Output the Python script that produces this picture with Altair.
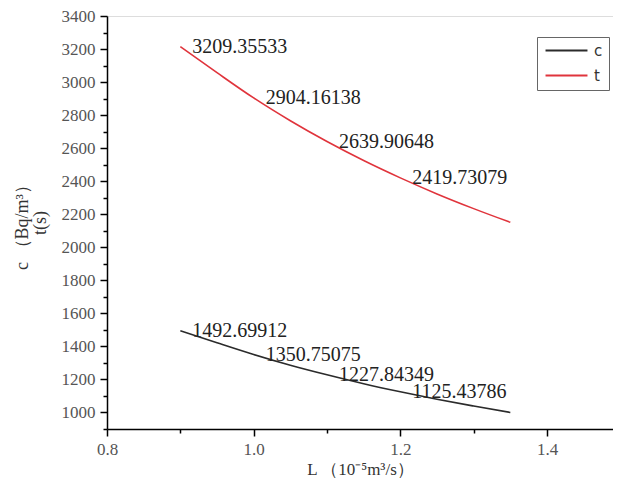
import altair as alt
import pandas as pd

# ---- data ----
L_vals = [0.90, 0.95, 1.00, 1.05, 1.10, 1.15, 1.20, 1.25, 1.30, 1.35]
c_vals = [1495, 1422, 1351, 1286, 1228, 1174, 1125, 1080, 1039, 1000]
t_vals = [3215, 3057, 2904, 2766, 2640, 2525, 2420, 2323, 2234, 2151]

label_L = [0.90, 1.00, 1.10, 1.20]
c_labels = [1492.69912, 1350.75075, 1227.84349, 1125.43786]
t_labels = [3209.35533, 2904.16138, 2639.90648, 2419.73079]

x_major = [0.8, 1.0, 1.2, 1.4]
x_minor = [0.9, 1.1, 1.3]
y_major = [1000, 1200, 1400, 1600, 1800, 2000, 2200, 2400, 2600, 2800, 3000, 3200, 3400]
y_minor = [900, 1100, 1300, 1500, 1700, 1900, 2100, 2300, 2500, 2700, 2900, 3100, 3300]

series = ["c", "t"]
colors = ["#2b2b2b", "#e0343c"]

lines = pd.DataFrame({
    "L": L_vals + L_vals,
    "v": c_vals + t_vals,
    "s": ["c"] * len(L_vals) + ["t"] * len(L_vals),
})
labels = pd.DataFrame({
    "L": label_L + label_L,
    "v": c_labels + t_labels,
    "s": ["c"] * len(label_L) + ["t"] * len(label_L),
})

SERIF = "Liberation Serif"
x_scale = alt.Scale(domain=[0.8, 1.49], nice=False, zero=False)
y_scale = alt.Scale(domain=[900, 3400], nice=False, zero=False)

common = dict(
    grid=False,
    domainColor="#000",
    domainWidth=1.5,
    tickColor="#000",
    tickWidth=1.5,
    labelFlush=False,
    labelOverlap=False,
)

x_main = alt.Axis(
    orient="bottom",
    values=x_major,
    format=".1f",
    tickSize=7,
    title="L （10⁻⁵m³/s）",
    labelFont=SERIF,
    labelFontSize=17,
    labelColor="#555",
    labelPadding=5,
    titleFont=SERIF,
    titleFontSize=17,
    titleFontWeight="normal",
    titleColor="#333",
    titlePadding=4,
    **common,
)
y_main = alt.Axis(
    orient="left",
    values=y_major,
    format="d",
    tickSize=7,
    title=["c （Bq/m³）", "t(s)"],
    labelFont=SERIF,
    labelFontSize=17,
    labelColor="#555",
    labelPadding=5,
    titleFont=SERIF,
    titleFontSize=18,
    titleFontWeight="normal",
    titleColor="#333",
    titlePadding=12,
    titleLineHeight=18,
    **common,
)
x_min_axis = alt.Axis(orient="bottom", values=x_minor, tickSize=4, labels=False,
                      domain=False, title=None, grid=False, tickColor="#000", tickWidth=1.5)
y_min_axis = alt.Axis(orient="left", values=y_minor, tickSize=4, labels=False,
                      domain=False, title=None, grid=False, tickColor="#000", tickWidth=1.5)

line_layer = alt.Chart(lines).mark_line(strokeWidth=1.6, interpolate="monotone").encode(
    x=alt.X("L:Q", scale=x_scale, axis=x_main),
    y=alt.Y("v:Q", scale=y_scale, axis=y_main),
    color=alt.Color(
        "s:N",
        scale=alt.Scale(domain=series, range=colors),
        legend=alt.Legend(
            title=None,
            orient="none",
            legendX=430,
            legendY=21,
            strokeColor="#666",
            padding=6,
            rowPadding=9,
            symbolType="M-4,0H4",
            symbolSize=110,
            symbolOffset=16,
            labelOffset=20,
            symbolStrokeWidth=2,
            labelFont="DejaVu Sans",
            labelFontSize=15,
            labelColor="#333",
        ),
    ),
)

text_layer = alt.Chart(labels).mark_text(
    align="left", baseline="middle", dx=12, font=SERIF, fontSize=20, color="#222"
).encode(
    x=alt.X("L:Q", scale=x_scale, axis=x_min_axis),
    y=alt.Y("v:Q", scale=y_scale, axis=y_min_axis),
    text=alt.Text("v:Q", format=".5f"),
)

chart = alt.layer(line_layer, text_layer).resolve_axis(
    x="independent", y="independent"
).properties(
    width=506,
    height=413,
    autosize=alt.AutoSizeParams(type="none"),
    padding={"left": 99, "top": 8, "right": 0, "bottom": 51},
).configure_view(stroke=None).configure(background="white")

chart.save("out.html", embed_options={"renderer": "svg", "actions": False})
